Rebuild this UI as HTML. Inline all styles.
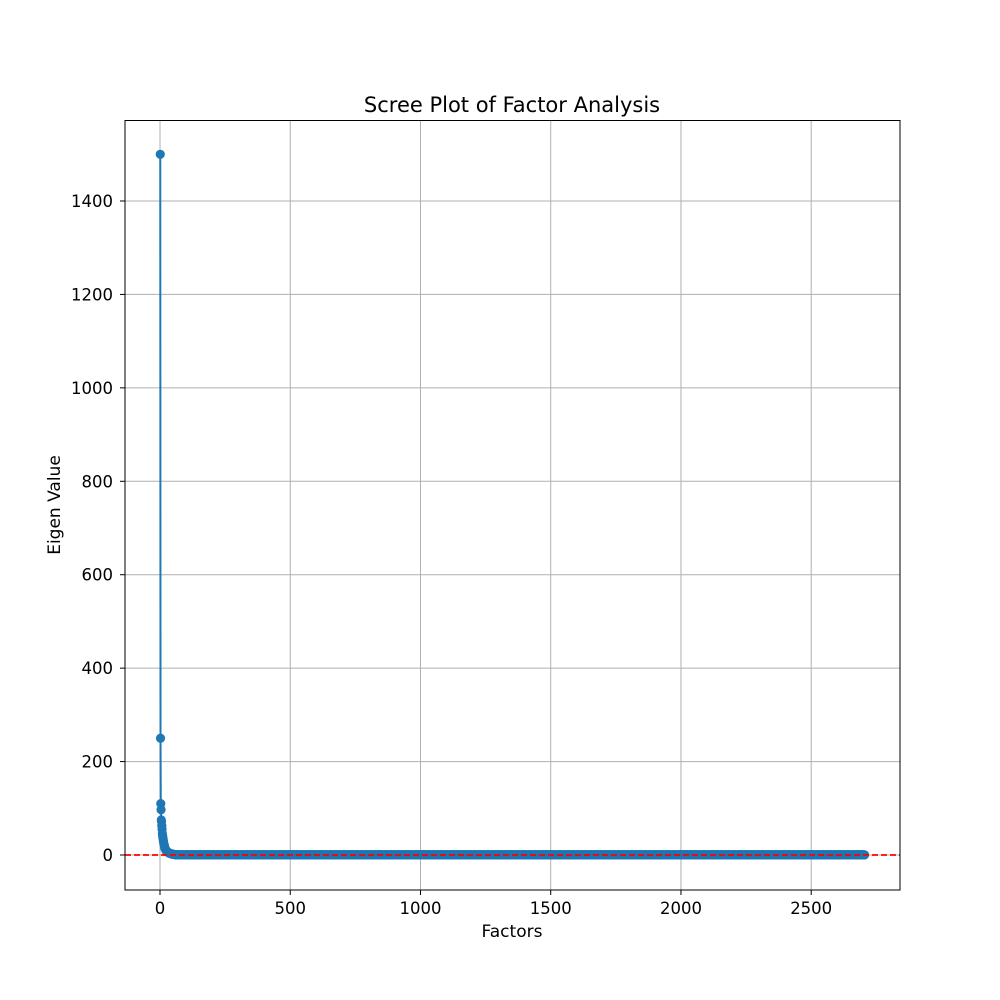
<!DOCTYPE html>
<html><head><meta charset="utf-8"><style>
html,body{margin:0;padding:0;background:#fff;}
svg{display:block;font-family:"DejaVu Sans","Liberation Sans",sans-serif;}
</style></head><body>
<svg id="chart" width="1000" height="1000" viewBox="0 0 1000 1000">
<rect x="0" y="0" width="1000" height="1000" fill="#fff"/>
<g id="grid"></g>
<g id="series"></g>
<rect x="125" y="120.5" width="775" height="769.5" fill="none" stroke="#000" stroke-width="1"/>
<g id="ticks"></g>
<text x="512" y="112" text-anchor="middle" font-size="21">Scree Plot of Factor Analysis</text>
<text x="512" y="937" text-anchor="middle" font-size="17">Factors</text>
<text transform="translate(60,505) rotate(-90)" text-anchor="middle" font-size="17">Eigen Value</text>
</svg>
<script>
const xTicks = [0, 500, 1000, 1500, 2000, 2500];
const yTicks = [0, 200, 400, 600, 800, 1000, 1200, 1400];
const headValues = [1500, 250, 110, 97, 75, 72, 63, 55, 46, 42, 38, 34, 30, 27, 24, 21, 19, 17, 15, 13, 12, 11, 10, 9, 8.5, 8, 7.5, 7, 6.5, 6, 5.5, 5, 4.8, 4.5, 4.2, 4, 3.8, 3.6, 3.4, 3.2, 3, 2.8, 2.6, 2.4, 2.2, 2, 1.9, 1.8, 1.7, 1.6, 1.5, 1.4, 1.3, 1.2, 1.1, 1.0, 0.9, 0.8, 0.7, 0.6];
const tailCount = 2645;
const tailValue = 0.3;
const refLine = 0;

const eigen = headValues.concat(new Array(tailCount).fill(tailValue));
const NS = 'http://www.w3.org/2000/svg';
const X = v => 160 + v * 0.26048;
const Y = v => 855 - v * 0.46714;
function mk(tag, attrs, parent){const e=document.createElementNS(NS,tag);for(const k in attrs)e.setAttribute(k,attrs[k]);parent.appendChild(e);return e;}
const grid=document.getElementById('grid'), ticks=document.getElementById('ticks'), series=document.getElementById('series');
xTicks.forEach(t=>{
  const gl=mk('line',{x1:X(t),x2:X(t),y1:120,y2:890,stroke:'#b0b0b0','stroke-width':1},grid);
  
  
  mk('line',{x1:X(t),x2:X(t),y1:890,y2:895,stroke:'#000','stroke-width':1},ticks);
  const tx=mk('text',{x:X(t),y:914,'text-anchor':'middle','font-size':16.5},ticks);
  tx.textContent=t;
  
  
});
yTicks.forEach(t=>{
  const gl=mk('line',{x1:125,x2:900,y1:Y(t),y2:Y(t),stroke:'#b0b0b0','stroke-width':1},grid);
  
  
  mk('line',{x1:120,x2:125,y1:Y(t),y2:Y(t),stroke:'#000','stroke-width':1},ticks);
  const tx=mk('text',{x:113,y:Y(t)+6,'text-anchor':'end','font-size':16.5},ticks);
  tx.textContent=t;
  
  
});
let d='';
eigen.forEach((v,i)=>{d+=(i?'L':'M')+X(i+1).toFixed(2)+' '+Y(v).toFixed(2);});
const line=mk('path',{d:d,fill:'none',stroke:'#1f77b4','stroke-width':2},series);


const pts=mk('g',{fill:'#1f77b4'},series);


eigen.forEach((v,i)=>{
  mk('circle',{cx:X(i+1).toFixed(2),cy:Y(v).toFixed(2),r:4.6},pts);
});
const rl=mk('line',{x1:125,x2:900,y1:Y(refLine),y2:Y(refLine),stroke:'#ff0000','stroke-width':1.8,'stroke-dasharray':'6,3'},series);


</script>
</body></html>
